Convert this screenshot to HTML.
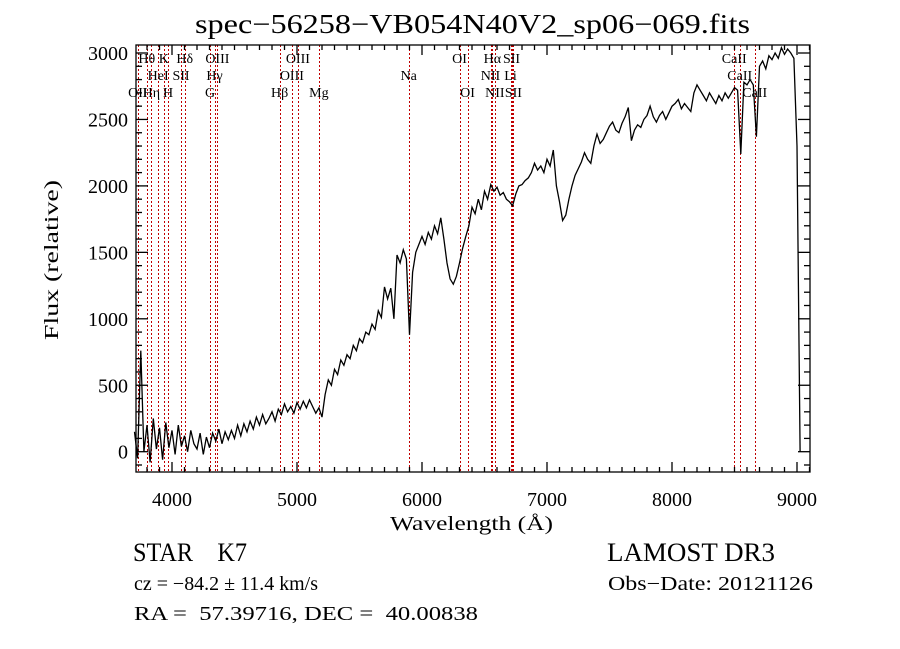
<!DOCTYPE html>
<html><head><meta charset="utf-8"><style>
html,body{margin:0;padding:0;background:#fff;}
svg{display:block;}
text{font-family:"Liberation Serif",serif;fill:#000;white-space:pre;}
</style></head><body>
<svg id="chart" width="900" height="649" viewBox="0 0 900 649" xmlns="http://www.w3.org/2000/svg" xml:space="preserve">
<rect width="900" height="649" fill="#fff"/>
<text x="195" y="33" font-size="27" textLength="555" lengthAdjust="spacingAndGlyphs">spec−56258−VB054N40V2_sp06−069.fits</text>
<text transform="translate(58,340) rotate(-90)" font-size="20" textLength="160" lengthAdjust="spacingAndGlyphs">Flux (relative)</text>
<text x="390" y="530" font-size="20" textLength="163" lengthAdjust="spacingAndGlyphs">Wavelength (Å)</text>
<g id="lines"></g>
<g id="labels"></g>
<g id="axes"></g>
<path id="spec" fill="none" stroke="#000" stroke-width="1.3"/>
<text x="133" y="561" font-size="26" textLength="114" lengthAdjust="spacingAndGlyphs">STAR    K7</text>
<text x="607" y="561" font-size="26" textLength="168" lengthAdjust="spacingAndGlyphs">LAMOST DR3</text>
<text x="134" y="590" font-size="20" textLength="184" lengthAdjust="spacingAndGlyphs">cz = −84.2 ± 11.4 km/s</text>
<text x="608" y="590" font-size="20" textLength="205" lengthAdjust="spacingAndGlyphs">Obs−Date: 20121126</text>
<text x="134" y="620" font-size="20" textLength="344" lengthAdjust="spacingAndGlyphs">RA =  57.39716, DEC =  40.00838</text>
</svg>
<script>
const waveStart = 3700;
const waveStep = 25;
const flux = [150,-50,760,0,200,-80,250,20,180,-60,220,30,160,-20,200,40,120,0,160,60,20,140,-20,110,30,140,80,170,60,
150,90,160,100,200,120,210,150,230,170,260,200,280,210,250,300,230,320,280,360,300,340,290,370,320,380,330,390,340,290,330,260,430,540,500,620,580,690,650,730,700,800,760,850,820,900,880,960,920,1060,1010,1240,1150,1230,1000,1480,1420,1520,1450,880,1350,1500,1560,1620,1560,1650,1600,1700,1640,1760,1600,1420,1300,1260,1320,1420,1530,1620,1700,1840,1790,1900,1820,1960,1900,2010,1960,1990,1930,1950,1900,1880,1850,1940,2000,2010,2040,2060,2100,2170,2120,2150,2100,2200,2150,2270,2000,1880,1740,1780,1900,2000,2080,2130,2180,2250,2200,2170,2300,2390,2320,2350,2400,2450,2480,2420,2400,2470,2520,2590,2340,2420,2460,2440,2500,2530,2600,2520,2480,2530,2560,2500,2550,2600,2620,2650,2580,2620,2590,2560,2700,2760,2720,2680,2640,2700,2660,2620,2680,2640,2700,2660,2700,2740,2720,2240,2780,2760,2800,2760,2370,2900,2940,2880,2980,2950,3000,2960,3040,2990,3030,3000,2960,2300,0];
const lineWaves = [3727,3798,3835,3889,3934,3968,4072,4102,4304,4340,4363,4861,4959,5007,5175,5893,6300,6364,6548,6563,6583,6708,6716,6731,8498,8542,8662];
const labelText = ["OII","Hθ","Hη","HeI","K","H","SII","Hδ","G","Hγ","OIII","Hβ","OIII","OIII","Mg","Na","OI","OI","NII","Hα","NII","Li","SII","SII","CaII","CaII","CaII"];
const labelRow = [2,0,2,1,0,2,1,0,2,1,0,2,1,0,2,1,0,2,1,0,2,1,0,2,0,1,2];
const xTicks = [4000,5000,6000,7000,8000,9000];
const yTicks = [0,500,1000,1500,2000,2500,3000];

const X0=136,X1=810,Y0=45,Y1=472;
const xs = w => 172 + (w-4000)*0.125;
const ys = f => 451.7 - f*0.1329;
const NS="http://www.w3.org/2000/svg";
function mk(tag){return document.createElementNS(NS,tag);}

const lg=document.getElementById('lines');
lineWaves.forEach((w,i)=>{
  const l=mk('line');
  
  
  const x=Math.round(xs(w))+0.5;
  l.setAttribute('x1',x);l.setAttribute('x2',x);
  l.setAttribute('y1',Y0);l.setAttribute('y2',Y1);
  l.setAttribute('stroke','#c00000');l.setAttribute('stroke-width','1');
  l.setAttribute('stroke-dasharray','2,2');
  lg.appendChild(l);
});
const lb=document.getElementById('labels');
lineWaves.forEach((w,i)=>{
  const t=mk('text');
  
  
  t.setAttribute('x',xs(w));t.setAttribute('y',63+labelRow[i]*17);
  t.setAttribute('text-anchor','middle');t.setAttribute('font-size','14');
  t.textContent=labelText[i];
  lb.appendChild(t);
});

const ax=document.getElementById('axes');
function ln(x1,y1,x2,y2){const l=mk('line');
  
  
  l.setAttribute('x1',x1);l.setAttribute('y1',y1);l.setAttribute('x2',x2);l.setAttribute('y2',y2);
  l.setAttribute('stroke','#000');l.setAttribute('stroke-width','1.3');ax.appendChild(l);}
const fr=mk('rect');


fr.setAttribute('x',X0);fr.setAttribute('y',Y0);fr.setAttribute('width',X1-X0);fr.setAttribute('height',Y1-Y0);
fr.setAttribute('fill','none');fr.setAttribute('stroke','#000');fr.setAttribute('stroke-width','1.3');ax.appendChild(fr);
for(let w=3800;w<=9100;w+=100){const x=xs(w);if(x<X0||x>X1)continue;const L=(w%1000===0)?10:5;ln(x,Y1,x,Y1-L);ln(x,Y0,x,Y0+L);}
for(let f=-100;f<=3000;f+=100){const y=ys(f);if(y<Y0||y>Y1)continue;const L=(f%500===0)?12:6;ln(X0,y,X0+L,y);ln(X1,y,X1-L,y);}
xTicks.forEach(v=>{const t=mk('text');
  
  
  t.setAttribute('x',xs(v));t.setAttribute('y',506);t.setAttribute('text-anchor','middle');
  t.setAttribute('font-size','20');t.setAttribute('font-family','Liberation Sans, sans-serif');t.textContent=v;ax.appendChild(t);});
yTicks.forEach(v=>{const t=mk('text');
  
  
  t.setAttribute('x',128);t.setAttribute('y',ys(v)+7);t.setAttribute('text-anchor','end');
  t.setAttribute('font-size','20');t.setAttribute('font-family','Liberation Sans, sans-serif');t.textContent=v;ax.appendChild(t);});

let d='';
flux.forEach((f,i)=>{const w=waveStart+i*waveStep;d+=(i?'L':'M')+xs(w).toFixed(1)+','+ys(f).toFixed(1);});
document.getElementById('spec').setAttribute('d',d);
</script>
</body></html>
